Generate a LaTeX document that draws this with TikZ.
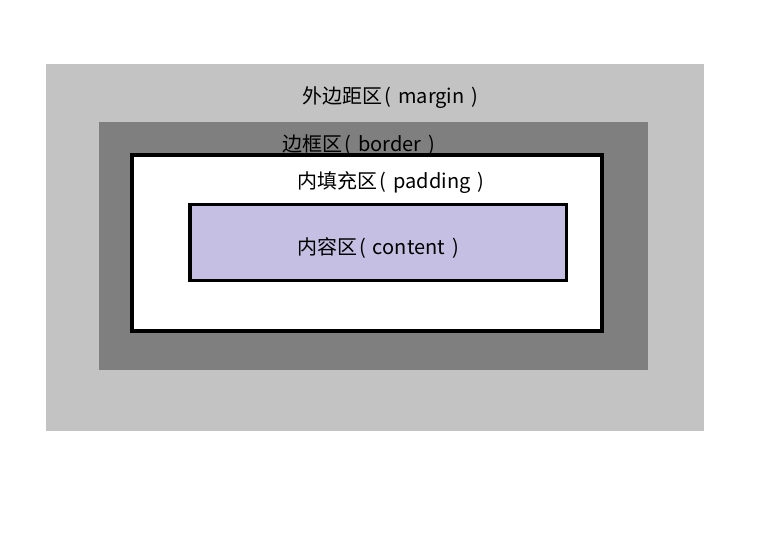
\documentclass[tikz,border=0pt]{standalone}
\usepackage{fontspec}
\newfontfamily\cjk{Noto Sans CJK SC}
\definecolor{marginc}{HTML}{C3C3C3}
\definecolor{borderc}{HTML}{7F7F7F}
\definecolor{contentc}{HTML}{C5C0E3}
\newcommand{\lp}{\hspace{0.1em}(\hspace{0.35em}}
\newcommand{\rp}{\hspace{0.35em})}
\begin{document}
\begin{tikzpicture}[x=1pt,y=-1pt,
  lbl/.style={font=\cjk\fontsize{20}{23}\selectfont, text=black, inner sep=0pt},
  box/.style={draw=black, line width=3.6pt}]
\useasboundingbox (0,0) rectangle (779,535);
\fill[white] (0,0) rectangle (779,535);
\fill[marginc] (46,64) rectangle (704,431);
\fill[borderc] (99,122) rectangle (648,370);
\filldraw[box, fill=white] (132,155) rectangle (602,331);
\filldraw[box, fill=contentc] (190,204.5) rectangle (566.5,280.5);
\node[lbl] (m) at (390.5,98) {外边距区\lp margin\rp};
\node[lbl] (b) at (359,145) {边框区\lp border\rp};
\node[lbl] (p) at (391,182.5) {内填充区\lp padding\rp};
\node[lbl] (c) at (378,248) {内容区\lp content\rp};
\end{tikzpicture}
\end{document}
